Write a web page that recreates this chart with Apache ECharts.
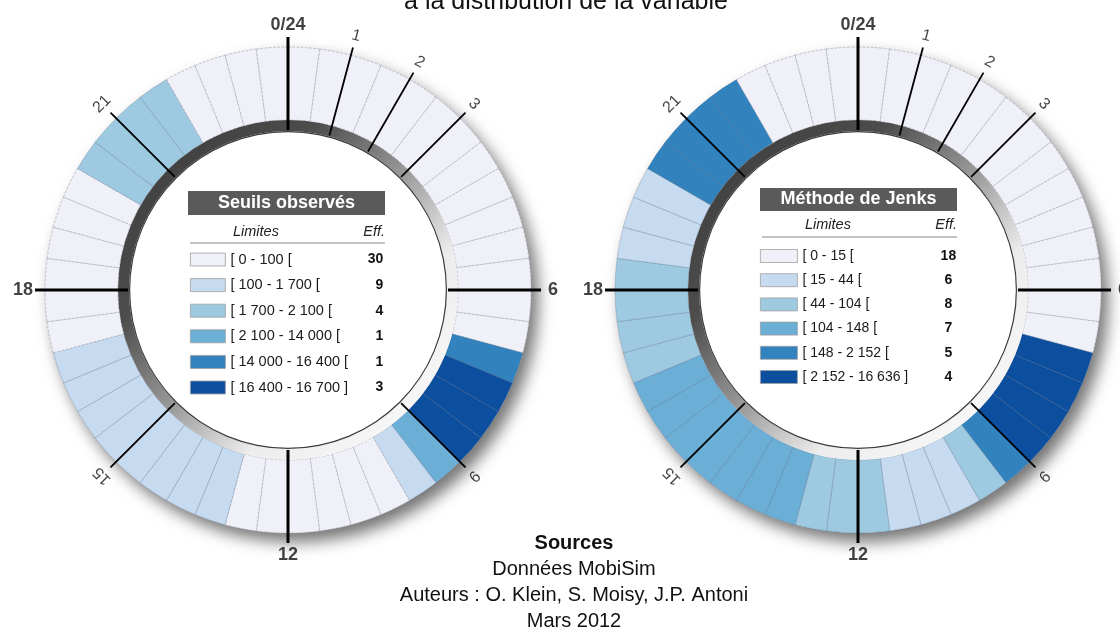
<!DOCTYPE html>
<html>
<head>
<meta charset="utf-8">
<script src="https://cdn.jsdelivr.net/npm/echarts@6/dist/echarts.min.js"></script>
<style>html,body{margin:0;padding:0;background:#fff}#c{width:1120px;height:631px}</style>
</head>
<body>
<div id="c"></div>
<script>
// ---------- DATA ----------
const slotMinutes = 30; // each ring cell = one half-hour slot (48 slots, clockwise from 0h)
const classColors = ['#eff0f8', '#c6dbef', '#9ecae1', '#6baed6', '#3182bd', '#0d4f9f'];

const leftTitle = 'Seuils observés';
const leftLimits = ['[ 0 - 100 [', '[ 100 - 1 700 [', '[ 1 700 - 2 100 [', '[ 2 100 - 14 000 [', '[ 14 000 - 16 400 [', '[ 16 400 - 16 700 ]'];
const leftCounts = [30, 9, 4, 1, 1, 3];
const leftClasses = [0,0,0,0,0,0,0,0,0,0,0,0,0,0,4,5,5,5,3,1,0,0,0,0,
                     0,0,1,1,1,1,1,1,1,1,0,0,0,0,0,0,2,2,2,2,0,0,0,0];

const rightTitle = 'Méthode de Jenks';
const rightLimits = ['[ 0 - 15 [', '[ 15 - 44 [', '[ 44 - 104 [', '[ 104 - 148 [', '[ 148 - 2 152 [', '[ 2 152 - 16 636 ]'];
const rightCounts = [18, 6, 8, 7, 5, 4];
const rightClasses = [0,0,0,0,0,0,0,0,0,0,0,0,0,0,5,5,5,5,4,2,1,1,1,2,
                      2,2,3,3,3,3,3,3,3,2,2,2,2,1,1,1,4,4,4,4,0,0,0,0];

const majorHours = [0, 6, 12, 18];
const majorHourLabels = ['0/24', '6', '12', '18'];
const minorHours = [1, 2, 3, 9, 15, 21];
const minorHourLabels = ['1', '2', '3', '9', '15', '21'];

const headerLimits = 'Limites';
const headerCount = 'Eff.';
const topText = 'à la distribution de la variable';
const sourceLines = ['Sources', 'Données MobiSim', 'Auteurs : O. Klein, S. Moisy, J.P. Antoni', 'Mars 2012'];

// ---------- LAYOUT ----------
const FONT = "'Liberation Sans', Arial, Helvetica, sans-serif";
const R_OUT = 243, R_IN = 170, BAND_IN = 159;
const TICK_IN = 160, TICK_OUT = 253, MAJOR_LABEL_R = 265, MINOR_LABEL_R = 263;

const charts = [
  { center: [288, 290], title: leftTitle, limits: leftLimits, counts: leftCounts, classes: leftClasses,
    box: [188, 191, 197, 24], headY: 232, lineY: 243, textX: 233,
    legendLeft: 190, legendTop: 252, legendGap: 10.6, swatchW: 35, nW: 125, cW: 28, cAlign: 'right', nSize: 14.5 },
  { center: [858, 290], title: rightTitle, limits: rightLimits, counts: rightCounts, classes: rightClasses,
    box: [760, 188, 197, 23], headY: 225, lineY: 237, textX: 805,
    legendLeft: 760, legendTop: 249, legendGap: 10.2, swatchW: 37, nW: 128, cW: 36, cAlign: 'center', nSize: 14 }
];

const series = [], polar = [], angleAxis = [], radiusAxis = [], legend = [], graphic = [];
const common = { silent: true, animation: false, label: { show: false }, labelLine: { show: false }, emphasis: { disabled: true } };

charts.forEach((ch, k) => {
  const center = ch.center;
  polar.push({ center: center, radius: [0, 300] });
  angleAxis.push({ polarIndex: k, type: 'value', min: 0, max: 24, startAngle: 90, clockwise: true, show: false });
  radiusAxis.push({ polarIndex: k, type: 'value', min: 0, max: 300, show: false });

  // drop-shadow disc
  series.push(Object.assign({ type: 'pie', center, radius: [0, R_OUT], z: 1,
    itemStyle: { color: '#ffffff', shadowBlur: 16, shadowOffsetX: 7, shadowOffsetY: 9, shadowColor: 'rgba(0,0,0,0.55)' },
    data: [{ value: 1, name: 'disc' + k }] }, common));

  // ring of half-hour slots
  series.push(Object.assign({ type: 'pie', center, radius: [R_IN, R_OUT], startAngle: 90, clockwise: true, z: 2,
    data: ch.classes.map(c => ({
      name: ch.limits[c], value: slotMinutes,
      itemStyle: { color: classColors[c],
        borderColor: c === 0 ? '#a6a8b8' : 'rgba(60,80,110,0.35)',
        borderWidth: 0.7, borderType: c === 0 ? 'dashed' : 'solid' }
    })) }, common));

  // grey inner band with gradient
  series.push(Object.assign({ type: 'pie', center, radius: [BAND_IN, R_IN], z: 2,
    data: [{ value: 1, name: 'band' + k, itemStyle: { color: new echarts.graphic.LinearGradient(0, 0, 1, 1, [
      { offset: 0, color: '#383838' }, { offset: 0.3, color: '#4d4d4d' }, { offset: 0.5, color: '#9a9a9a' },
      { offset: 0.68, color: '#ececec' }, { offset: 1, color: '#ffffff' }]) } }] }, common));
  series.push(Object.assign({ type: 'pie', center, radius: [BAND_IN - 1.2, BAND_IN], z: 2,
    data: [{ value: 1, name: 'edge' + k, itemStyle: { color: '#3a3a3a' } }] }, common));

  // hour ticks
  majorHours.forEach(h => series.push({ type: 'line', coordinateSystem: 'polar', polarIndex: k, silent: true, animation: false,
    symbol: 'none', z: 5, lineStyle: { color: '#000', width: 3 }, data: [[TICK_IN, h], [TICK_OUT, h]] }));
  minorHours.forEach(h => series.push({ type: 'line', coordinateSystem: 'polar', polarIndex: k, silent: true, animation: false,
    symbol: 'none', z: 5, lineStyle: { color: '#000', width: 1.8 }, data: [[TICK_IN, h], [TICK_OUT - 2, h]] }));

  // hour labels
  series.push({ type: 'scatter', coordinateSystem: 'polar', polarIndex: k, silent: true, animation: false, z: 6,
    symbolSize: 1, itemStyle: { color: 'transparent' },
    label: { show: true, position: 'inside', color: '#111', fontFamily: FONT, fontSize: 18, fontWeight: 'bold' },
    data: majorHours.map((h, i) => ({ value: [MAJOR_LABEL_R, h], label: { formatter: majorHourLabels[i] } })) });
  series.push({ type: 'scatter', coordinateSystem: 'polar', polarIndex: k, silent: true, animation: false, z: 6,
    symbolSize: 1, itemStyle: { color: 'transparent' },
    label: { show: true, position: 'inside', color: '#111', fontFamily: FONT, fontSize: 16 },
    data: minorHours.map((h, i) => ({ value: [MINOR_LABEL_R, h], label: { formatter: minorHourLabels[i], rotate: -h * 15 } })) });

  // legend rows
  legend.push({
    data: ch.limits.map((n, c) => ({ name: n, itemStyle: { color: classColors[c], borderColor: '#a0a0a0', borderWidth: 0.8, borderType: 'solid' } })),
    orient: 'vertical', left: ch.legendLeft, top: ch.legendTop, itemGap: ch.legendGap,
    itemWidth: ch.swatchW, itemHeight: 13, padding: 0, selectedMode: false, icon: 'rect',
    formatter: name => '{n|' + name + '}{c|' + ch.counts[ch.limits.indexOf(name)] + '}',
    textStyle: { rich: {
      n: { fontFamily: FONT, fontSize: ch.nSize, color: '#1a1a1a', width: ch.nW, lineHeight: 16 },
      c: { fontFamily: FONT, fontSize: 14, fontWeight: 'bold', color: '#111', width: ch.cW, align: ch.cAlign, lineHeight: 16 }
    } }
  });

  // legend title box and header
  const [bx, by, bw, bh] = ch.box;
  graphic.push({ type: 'rect', z: 50, shape: { x: bx, y: by, width: bw, height: bh }, style: { fill: '#5a5a5a' } });
  graphic.push({ type: 'text', z: 51, x: bx + bw / 2, y: by + bh / 2,
    style: { text: ch.title, fill: '#ffffff', font: 'bold 18px ' + FONT, textAlign: 'center', textVerticalAlign: 'middle', align: 'center', verticalAlign: 'middle' } });
  graphic.push({ type: 'text', z: 51, x: ch.textX, y: ch.headY,
    style: { text: headerLimits, fill: '#222', font: 'italic 14.5px ' + FONT, textAlign: 'left', textVerticalAlign: 'middle', align: 'left', verticalAlign: 'middle' } });
  graphic.push({ type: 'text', z: 51, x: bx + bw, y: ch.headY,
    style: { text: headerCount, fill: '#222', font: 'italic 14.5px ' + FONT, textAlign: 'right', textVerticalAlign: 'middle', align: 'right', verticalAlign: 'middle' } });
  graphic.push({ type: 'line', z: 51, shape: { x1: bx + 2, y1: ch.lineY, x2: bx + bw, y2: ch.lineY }, style: { stroke: '#8a8a8a', lineWidth: 1 } });
});

// top (cut) title line and sources block
graphic.push({ type: 'text', z: 51, x: 566, y: 2.5,
  style: { text: topText, fill: '#111', font: '25px ' + FONT, textAlign: 'center', textVerticalAlign: 'middle', align: 'center', verticalAlign: 'middle' } });
const srcY = [543, 569, 595, 621];
sourceLines.forEach((t, i) => {
  graphic.push({ type: 'text', z: 51, x: 574, y: srcY[i],
    style: { text: t, fill: '#111', font: (i === 0 ? 'bold ' : '') + '20px ' + FONT, textAlign: 'center', textVerticalAlign: 'middle', align: 'center', verticalAlign: 'middle' } });
});

const chart = echarts.init(document.getElementById('c'), null, { renderer: 'canvas' });
chart.setOption({
  backgroundColor: '#ffffff',
  animation: false,
  polar, angleAxis, radiusAxis, legend, series, graphic
});
</script>
</body>
</html>
